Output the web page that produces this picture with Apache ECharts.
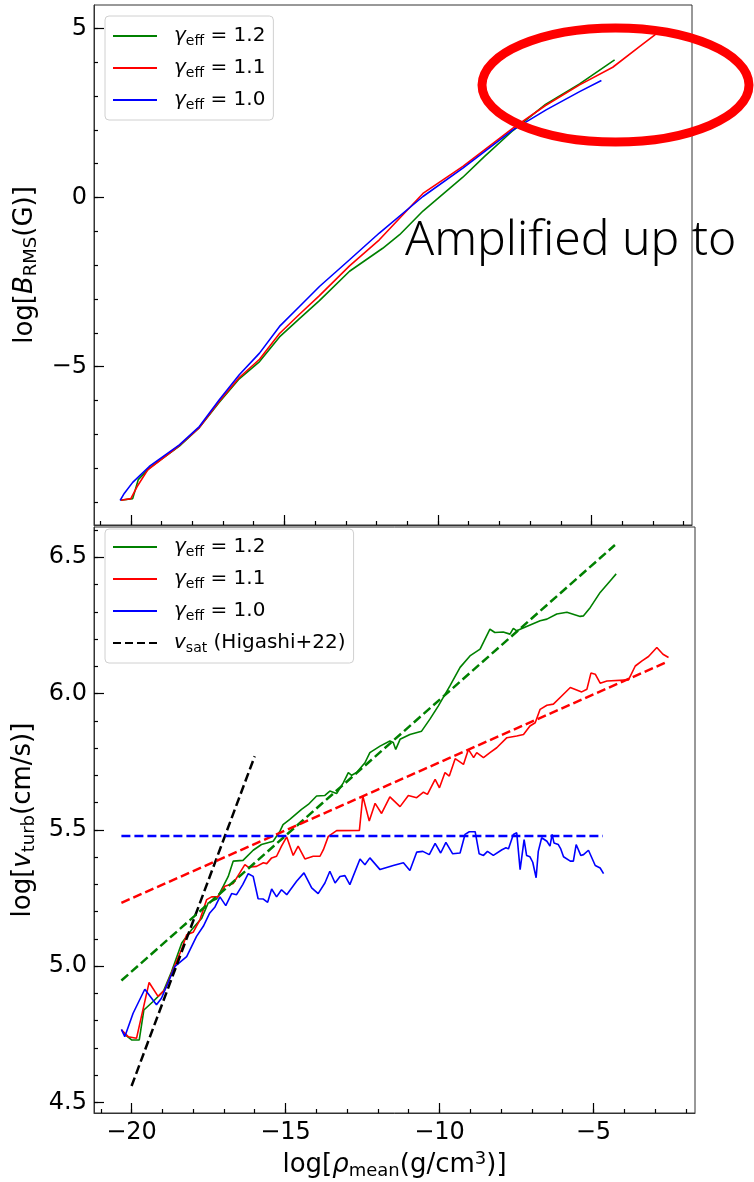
<!DOCTYPE html>
<html>
<head>
<meta charset="utf-8">
<script src="https://cdn.jsdelivr.net/npm/echarts@6/dist/echarts.min.js"></script>
<style>
  html, body { margin: 0; padding: 0; background: #fff; }
  #chart { width: 754px; height: 1182px; }
</style>
</head>
<body>
<div id="chart"></div>
<script>
// ticks
const xMajor = [-20, -15, -10, -5];
const xMinor = [-21, -20, -19, -18, -17, -16, -15, -14, -13, -12, -11, -10, -9, -8, -7, -6, -5, -4, -3, -2];
const bMajor = [-5, 0, 5];
const bMinor = [-9, -8, -7, -6, -5, -4, -3, -2, -1, 0, 1, 2, 3, 4, 5];
const vMajor = [4.5, 5.0, 5.5, 6.0, 6.5];
const vMinor = [4.5, 4.6, 4.7, 4.8, 4.9, 5.0, 5.1, 5.2, 5.3, 5.4, 5.5, 5.6, 5.7, 5.8, 5.9, 6.0, 6.1, 6.2, 6.3, 6.4, 6.5, 6.6];

// legend
const seriesNames = ['g12', 'g11', 'g10'];
const gammaLabels = ['1.2', '1.1', '1.0'];
const colors = ['#008000', '#ff0000', '#0000ff'];

// top panel: log B_RMS
const topGreen = [[-20.34,-8.95],[-19.94,-8.90],[-19.76,-8.34],[-19.40,-8.00],[-18.42,-7.35],[-17.77,-6.80],[-17.12,-6.05],[-16.47,-5.36],[-15.81,-4.85],[-15.16,-4.12],[-14.51,-3.58],[-13.86,-3.05],[-12.88,-2.18],[-11.80,-1.50],[-11.25,-1.10],[-10.49,-0.40],[-9.19,0.60],[-8.50,1.20],[-7.56,1.98],[-6.50,2.75],[-5.39,3.36],[-4.25,4.07]];
const topRed = [[-20.32,-8.95],[-20.00,-8.90],[-19.80,-8.55],[-19.45,-8.05],[-18.42,-7.33],[-17.77,-6.80],[-17.12,-6.02],[-16.47,-5.32],[-15.81,-4.78],[-15.16,-4.02],[-14.51,-3.45],[-13.86,-2.90],[-12.88,-2.02],[-11.91,-1.25],[-10.49,0.12],[-9.19,0.92],[-7.56,2.05],[-6.50,2.72],[-5.39,3.33],[-4.31,3.85],[-3.44,4.46],[-2.79,4.91]];
const topBlue = [[-20.35,-8.95],[-20.21,-8.74],[-19.94,-8.42],[-19.40,-7.95],[-18.42,-7.31],[-17.77,-6.77],[-17.12,-5.98],[-16.47,-5.24],[-15.81,-4.60],[-15.16,-3.81],[-14.51,-3.22],[-13.86,-2.63],[-12.88,-1.84],[-11.91,-1.05],[-10.49,0.03],[-9.19,0.87],[-7.56,2.00],[-6.48,2.59],[-5.39,3.13],[-4.68,3.46]];

// bottom panel: log v_turb
const botGreen = [[-20.27,4.754],[-20.0,4.729],[-19.75,4.729],[-19.60,4.839],[-19.30,4.87],[-18.97,4.907],[-18.70,4.98],[-18.37,5.085],[-18.05,5.133],[-17.72,5.176],[-17.51,5.232],[-17.24,5.246],[-17.02,5.293],[-16.86,5.329],[-16.70,5.385],[-16.38,5.388],[-16.05,5.425],[-15.78,5.446],[-15.40,5.458],[-15.18,5.495],[-15.08,5.519],[-14.86,5.538],[-14.48,5.575],[-14.26,5.593],[-13.99,5.624],[-13.72,5.626],[-13.56,5.642],[-13.34,5.633],[-13.12,5.673],[-12.96,5.71],[-12.85,5.70],[-12.69,5.71],[-12.42,5.746],[-12.26,5.783],[-11.93,5.807],[-11.61,5.826],[-11.50,5.82],[-11.42,5.795],[-11.28,5.832],[-10.96,5.85],[-10.58,5.862],[-10.31,5.906],[-10.04,5.954],[-9.66,6.028],[-9.33,6.096],[-9.01,6.138],[-8.68,6.163],[-8.36,6.236],[-8.20,6.224],[-7.93,6.226],[-7.71,6.218],[-7.60,6.239],[-7.49,6.23],[-7.17,6.246],[-6.73,6.267],[-6.51,6.273],[-6.19,6.292],[-5.86,6.298],[-5.43,6.283],[-5.32,6.285],[-5.10,6.316],[-4.78,6.371],[-4.45,6.414],[-4.26,6.439]];
const botRed = [[-20.33,4.766],[-20.11,4.741],[-19.84,4.735],[-19.43,4.94],[-19.14,4.889],[-18.92,4.913],[-18.70,4.974],[-18.38,5.06],[-18.21,5.115],[-18.0,5.124],[-17.78,5.17],[-17.56,5.244],[-17.40,5.254],[-17.19,5.254],[-16.97,5.293],[-16.70,5.303],[-16.54,5.332],[-16.32,5.372],[-16.21,5.363],[-15.94,5.366],[-15.72,5.379],[-15.61,5.376],[-15.45,5.397],[-15.29,5.403],[-15.13,5.44],[-14.96,5.474],[-14.75,5.406],[-14.59,5.44],[-14.37,5.393],[-14.10,5.403],[-13.88,5.403],[-13.77,5.427],[-13.61,5.476],[-13.34,5.497],[-12.60,5.498],[-12.49,5.624],[-12.28,5.532],[-12.09,5.597],[-11.88,5.56],[-11.61,5.621],[-11.28,5.585],[-11.01,5.626],[-10.74,5.618],[-10.52,5.638],[-10.39,5.63],[-10.14,5.685],[-10.0,5.654],[-9.82,5.71],[-9.68,5.697],[-9.49,5.761],[-9.22,5.74],[-9.06,5.795],[-8.89,5.765],[-8.79,5.783],[-8.57,5.765],[-8.36,5.783],[-8.14,5.801],[-7.81,5.838],[-7.49,5.844],[-7.27,5.85],[-7.06,5.881],[-6.89,5.893],[-6.73,5.942],[-6.51,5.957],[-6.30,5.961],[-6.03,5.991],[-5.75,6.022],[-5.38,6.006],[-5.21,6.016],[-5.08,6.075],[-4.94,6.071],[-4.78,6.038],[-4.56,6.046],[-3.86,6.05],[-3.64,6.101],[-3.42,6.12],[-3.21,6.136],[-2.94,6.169],[-2.74,6.144],[-2.56,6.132]];
const botBlue = [[-20.33,4.768],[-20.22,4.741],[-19.95,4.827],[-19.57,4.915],[-19.19,4.858],[-19.03,4.882],[-18.59,4.999],[-18.21,5.035],[-17.89,5.109],[-17.67,5.146],[-17.46,5.195],[-17.29,5.217],[-17.13,5.254],[-16.94,5.222],[-16.75,5.266],[-16.59,5.262],[-16.39,5.299],[-16.21,5.339],[-16.05,5.329],[-15.89,5.247],[-15.72,5.246],[-15.58,5.234],[-15.45,5.283],[-15.29,5.254],[-15.13,5.28],[-14.96,5.262],[-14.64,5.311],[-14.40,5.342],[-14.15,5.287],[-13.94,5.266],[-13.72,5.305],[-13.56,5.348],[-13.39,5.305],[-13.23,5.329],[-13.07,5.332],[-12.91,5.299],[-12.58,5.393],[-12.42,5.372],[-12.26,5.397],[-11.93,5.354],[-11.50,5.369],[-11.17,5.379],[-10.96,5.351],[-10.74,5.418],[-10.54,5.421],[-10.33,5.409],[-10.14,5.45],[-9.96,5.415],[-9.79,5.454],[-9.57,5.412],[-9.33,5.415],[-9.17,5.483],[-9.03,5.493],[-8.84,5.493],[-8.71,5.412],[-8.57,5.406],[-8.44,5.421],[-8.25,5.406],[-7.97,5.427],[-7.84,5.434],[-7.76,5.43],[-7.60,5.483],[-7.49,5.489],[-7.38,5.354],[-7.25,5.464],[-7.17,5.406],[-7.06,5.401],[-6.97,5.381],[-6.86,5.324],[-6.79,5.421],[-6.68,5.471],[-6.51,5.458],[-6.41,5.44],[-6.34,5.483],[-6.28,5.452],[-6.14,5.446],[-6.06,5.43],[-5.97,5.401],[-5.75,5.385],[-5.65,5.385],[-5.56,5.446],[-5.41,5.406],[-5.32,5.409],[-5.26,5.403],[-5.16,5.425],[-4.94,5.369],[-4.78,5.36],[-4.67,5.339]];

// fitted / reference dashed lines (end points)
const fitGreen = [[-20.33,4.947],[-4.30,6.545]];
const fitRed = [[-20.33,5.232],[-2.61,6.116]];
const fitBlue = [[-20.33,5.477],[-4.69,5.477]];
const satLine = [[-20.0,4.56],[-16.0,5.77]];

const FONT = 'DejaVu Sans';
const minus = v => String(v).replace('-', '\u2212');

function richText(size, sub) {
    return {
        t: {fontFamily: FONT, fontSize: size, lineHeight: size + 4, verticalAlign: 'middle', color: '#000'},
        i: {fontFamily: FONT, fontSize: size, fontStyle: 'italic', lineHeight: size + 4, verticalAlign: 'middle', color: '#000'},
        s: {fontFamily: FONT, fontSize: sub, lineHeight: 12, verticalAlign: 'bottom', color: '#000'},
        u: {fontFamily: FONT, fontSize: sub, lineHeight: 12, verticalAlign: 'top', color: '#000'}
    };
}

function axis(grid, min, max, values, len, main, extra) {
    let a = {
        gridIndex: grid, type: 'value', min: min, max: max,
        axisLine: {show: main, onZero: false, lineStyle: {color: '#333', width: 1}},
        axisTick: {show: true, inside: true, length: len, customValues: values, lineStyle: {color: '#000', width: 1.2}},
        axisLabel: {show: false},
        splitLine: {show: false}
    };
    return Object.assign(a, extra || {});
}

const labelStyle = {fontFamily: FONT, fontSize: 24, color: '#000'};
const nameStyle = {fontFamily: FONT, fontSize: 26, rich: richText(26, 18)};

let chart = echarts.init(document.getElementById('chart'));

function line(name, data, color, xi, yi, dash) {
    return {
        name: name, type: 'line', data: data, xAxisIndex: xi, yAxisIndex: yi,
        symbol: 'none', showSymbol: false, animation: false, z: dash ? 4 : 3,
        itemStyle: {color: color},
        lineStyle: {color: color, width: dash ? 2.5 : 1.6, type: dash ? [9, 4] : 'solid'}
    };
}

const legendText = {};
seriesNames.forEach((n, i) => { legendText[n] = '{g|γ}{s|eff}{t| = ' + gammaLabels[i] + '}'; });
legendText['sat'] = '{g|v}{s|sat}{t| (Higashi+22)}';

function legend(top, names, pad) {
    return {
        data: names, left: 105, top: top, orient: 'vertical',
        itemWidth: 56, itemHeight: 2, itemGap: 8, padding: pad,
        backgroundColor: 'rgba(255,255,255,0.85)', borderColor: '#d0d0d0', borderWidth: 1, borderRadius: 4,
        selectedMode: false, z: 20,
        formatter: name => legendText[name],
        textStyle: {
            fontFamily: FONT, fontSize: 20, color: '#000', lineHeight: 24,
            rich: {
                g: {fontFamily: FONT, fontSize: 20, fontStyle: 'italic', lineHeight: 24, verticalAlign: 'middle', color: '#000'},
                s: {fontFamily: FONT, fontSize: 14, lineHeight: 10, verticalAlign: 'bottom', color: '#000'},
                t: {fontFamily: FONT, fontSize: 20, lineHeight: 24, verticalAlign: 'middle', color: '#000'}
            }
        }
    };
}

// legend icons: 44px line plus an invisible point at 56 to leave room before the text
const solidIcon = 'path://M0,0H44V2H0ZM56,0H56.01V0.01H56Z';
const dashIcon = 'path://M0,0H8V2H0ZM12,0H20V2H12ZM24,0H32V2H24ZM36,0H44V2H36ZM56,0H56.01V0.01H56Z';
const solid = [{name: 'g12', icon: solidIcon}, {name: 'g11', icon: solidIcon}, {name: 'g10', icon: solidIcon}];

chart.setOption({
    animation: false,
    backgroundColor: '#fff',
    grid: [
        {left: 94, top: 5, width: 598, height: 520, show: true, borderColor: '#333', borderWidth: 1, outerBoundsMode: 'none'},
        {left: 94, top: 527, width: 601, height: 586, show: true, borderColor: '#333', borderWidth: 1, outerBoundsMode: 'none'}
    ],
    xAxis: [
        axis(0, -21.2, -1.73, xMajor, 10, true, {position: 'bottom'}),
        axis(0, -21.2, -1.73, xMinor, 4, false, {position: 'bottom'}),
        axis(1, -21.22, -1.70, xMajor, 10, true, {
            position: 'bottom',
            axisLabel: Object.assign({show: true, customValues: xMajor, margin: 8, formatter: minus}, labelStyle),
            name: '{t|log[}{i|ρ}{s|mean}{t|(g/cm}{u|3}{t|)]}',
            nameLocation: 'middle', nameGap: 37,
            nameTextStyle: nameStyle
        }),
        axis(1, -21.22, -1.70, xMinor, 4, false, {position: 'bottom'})
    ],
    yAxis: [
        axis(0, -9.68, 5.69, bMajor, 10, true, {
            position: 'left',
            axisLabel: Object.assign({show: true, customValues: bMajor, margin: 7, formatter: minus}, labelStyle),
            name: '{t|log[}{i|B}{s|RMS}{t|(G)]}',
            nameLocation: 'middle', nameRotate: 90, nameGap: 44,
            nameTextStyle: nameStyle
        }),
        axis(0, -9.68, 5.69, bMinor, 4, false, {position: 'left'}),
        axis(1, 4.461, 6.611, vMajor, 10, true, {
            position: 'left',
            axisLabel: Object.assign({show: true, customValues: vMajor, margin: 7, formatter: v => v.toFixed(1)}, labelStyle),
            name: '{t|log[}{i|v}{s|turb}{t|(cm/s)]}',
            nameLocation: 'middle', nameRotate: 90, nameGap: 44,
            nameTextStyle: nameStyle
        }),
        axis(1, 4.461, 6.611, vMinor, 4, false, {position: 'left'})
    ],
    legend: [
        legend(16, solid, [8, 8, 8, 8]),
        legend(529, solid.concat([{name: 'sat', icon: dashIcon}]), [6, 8, 8, 8])
    ],
    series: [
        line('g12', topGreen, colors[0], 0, 0, false),
        line('g11', topRed, colors[1], 0, 0, false),
        line('g10', topBlue, colors[2], 0, 0, false),
        line('g12', botGreen, colors[0], 2, 2, false),
        line('g11', botRed, colors[1], 2, 2, false),
        line('g10', botBlue, colors[2], 2, 2, false),
        line('sat', satLine, '#000', 2, 2, true),
        line('fitG', fitGreen, colors[0], 2, 2, true),
        line('fitR', fitRed, colors[1], 2, 2, true),
        line('fitB', fitBlue, colors[2], 2, 2, true)
    ],
    graphic: [
        {
            type: 'ellipse', z: 100,
            shape: {cx: 615.5, cy: 85, rx: 133.5, ry: 57},
            style: {fill: 'none', stroke: '#ff0000', lineWidth: 9}
        },
        {
            type: 'text', z: 100, x: 405, y: 241,
            style: {text: 'Amplified up to', font: '300 48px "Noto Sans"', fill: '#000', verticalAlign: 'middle', textVerticalAlign: 'middle'}
        }
    ]
});
</script>
</body>
</html>
